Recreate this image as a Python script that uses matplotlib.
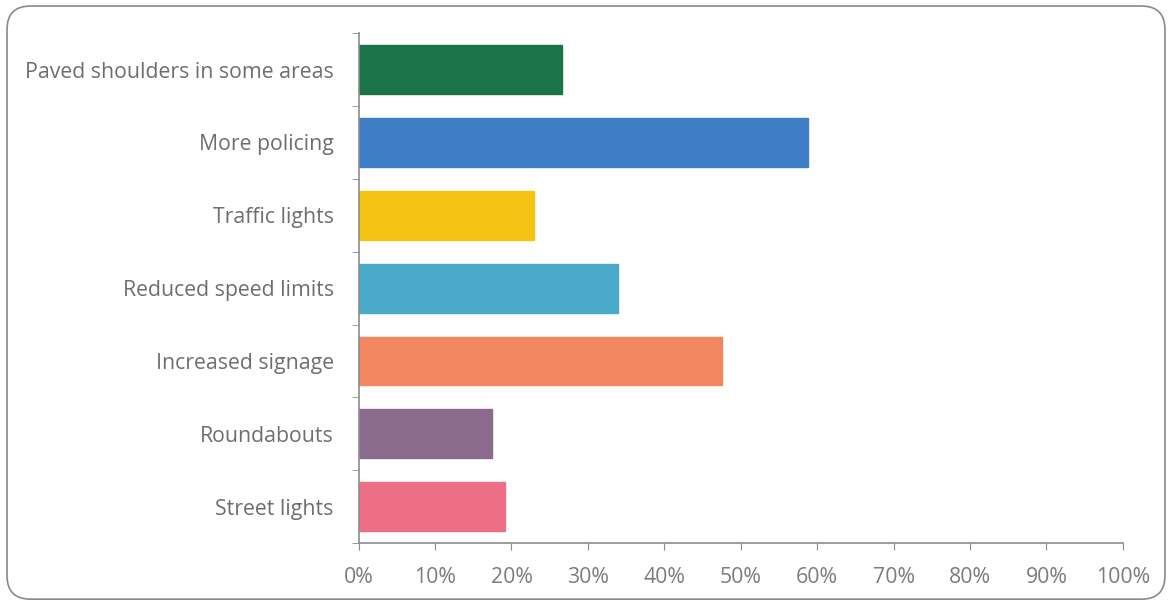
import matplotlib
matplotlib.use("Agg")
import matplotlib.pyplot as plt
from matplotlib.patches import FancyBboxPatch
from matplotlib.ticker import FixedLocator, PercentFormatter

categories = ["Paved shoulders in some areas", "More policing", "Traffic lights",
              "Reduced speed limits", "Increased signage", "Roundabouts", "Street lights"]
values = [26.6, 58.8, 22.9, 33.9, 47.6, 17.5, 19.2]
colors = ["#1b7349", "#3f7dc6", "#f3c212", "#4ba9c9", "#f1865f", "#8b6b8d", "#ed6f87"]
xticks = [0, 10, 20, 30, 40, 50, 60, 70, 80, 90, 100]

plt.rcParams['font.family'] = ['Open Sans', 'DejaVu Sans']

fig = plt.figure(figsize=(11.72, 6.04), dpi=100)
ax = fig.add_axes([0.306, 0.101, 0.652, 0.844])

n = len(categories)
ypos = list(range(n))
ax.barh(ypos, values, height=0.67, color=colors, edgecolor=colors, linewidth=1)
ax.set_ylim(n - 0.5, -0.5)
ax.set_xlim(0, 100)
ax.set_yticks(ypos)
ax.set_yticklabels(categories)
ax.yaxis.set_minor_locator(FixedLocator([i - 0.5 for i in range(n + 1)]))
ax.tick_params(axis='y', which='major', length=0, pad=18, labelsize=15.3, labelcolor='#6e6e6e')
ax.tick_params(axis='y', which='minor', length=5, color='#8c8c8c', direction='out')
ax.set_xticks(xticks)
ax.xaxis.set_major_formatter(PercentFormatter(decimals=0))
ax.tick_params(axis='x', length=5, color='#8c8c8c', labelsize=15.3, labelcolor='#7c7c7c', pad=12)

for s in ['top', 'right']:
    ax.spines[s].set_visible(False)
for s in ['left', 'bottom']:
    ax.spines[s].set_color('#8c8c8c')
    ax.spines[s].set_linewidth(1.2)

border = FancyBboxPatch((0.006, 0.008), 0.988, 0.982, boxstyle="round,pad=0,rounding_size=0.02",
                        transform=fig.transFigure, fill=False, edgecolor='#8a8a8a', linewidth=1.2,
                        mutation_aspect=1172/604)
fig.patches.append(border)

fig.savefig("out.png", dpi=100)
